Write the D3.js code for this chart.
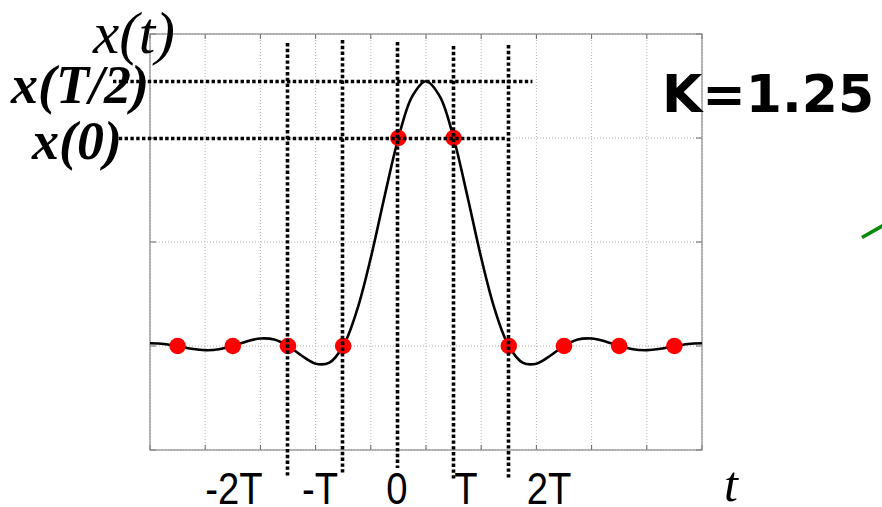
<!DOCTYPE html>
<html>
<head>
<meta charset="utf-8">
<script src="https://cdn.jsdelivr.net/npm/d3@7"></script>
<style>
  body { margin: 0; background: #fff; }
  svg { display: block; }
</style>
</head>
<body>
<div id="chart"></div>
<script>
// curve samples (t in units of T)
var curveT = [-4.5, -4.25, -4, -3.75, -3.5, -3.25, -3, -2.75, -2.5, -2.25, -2, -1.75, -1.5, -1.25, -1, -0.75, -0.5, -0.25,
  0, 0.25, 0.5, 0.75, 1, 1.25, 1.5, 1.75, 2, 2.25, 2.5, 2.75, 3, 3.25, 3.5, 3.75, 4, 4.25, 4.5, 4.75, 5, 5.25, 5.5];
var curveX = [0.013, 0.010, 0, -0.013, -0.020, -0.016, 0, 0.022, 0.036, 0.031, 0, -0.047, -0.085, -0.080, 0, 0.172, 0.424, 0.720,
  1.000, 1.200, 1.273, 1.200, 1.000, 0.720, 0.424, 0.172, 0, -0.080, -0.085, -0.047, 0, 0.031, 0.036, 0.022, 0, -0.016, -0.020, -0.013, 0, 0.010, 0.013];

// red sample points
var sampleT = [-4, -3, -2, -1, 0, 1, 2, 3, 4, 5];
var sampleX = [0, 0, 0, 0, 1, 1, 0, 0, 0, 0];

// dotted markers
var markerT = [-2, -1, 0, 1, 2];
var levelX = [1.273, 1];          // x(T/2), x(0)
var levelLabels = ["x(T/2)", "x(0)"];

// tick labels under the axis
var tickLabels = ["-2T", "-T", "0", "T", "2T"];

var W = 882, H = 507;
var svg = d3.select("#chart").append("svg")
  .attr("width", W).attr("height", H);

var x = d3.scaleLinear().domain([-4.5, 5.5]).range([150, 702]);
var y = d3.scaleLinear().domain([-0.5, 1.5]).range([450, 34]);

var gridX = d3.range(-4.5, 5.51, 1);
var gridY = d3.range(-0.5, 1.51, 0.5);

// grid
svg.append("g").selectAll("line").data(gridX).enter().append("line")
  .attr("x1", d => x(d)).attr("x2", d => x(d))
  .attr("y1", y(1.5)).attr("y2", y(-0.5))
  .attr("stroke", "#b4b4b4").attr("stroke-width", 1)
  .attr("stroke-dasharray", "1,2");
svg.append("g").selectAll("line").data(gridY).enter().append("line")
  .attr("x1", x(-4.5)).attr("x2", x(5.5))
  .attr("y1", d => y(d)).attr("y2", d => y(d))
  .attr("stroke", "#b4b4b4").attr("stroke-width", 1)
  .attr("stroke-dasharray", "1,2");

// ticks on the frame
var tk = svg.append("g").attr("stroke", "#666").attr("stroke-width", 1);
gridX.forEach(function(d) {
  tk.append("line").attr("x1", x(d)).attr("x2", x(d)).attr("y1", y(1.5)).attr("y2", y(1.5) + 5);
  tk.append("line").attr("x1", x(d)).attr("x2", x(d)).attr("y1", y(-0.5)).attr("y2", y(-0.5) - 5);
});
gridY.forEach(function(d) {
  tk.append("line").attr("x1", x(-4.5)).attr("x2", x(-4.5) + 6).attr("y1", y(d)).attr("y2", y(d));
  tk.append("line").attr("x1", x(5.5)).attr("x2", x(5.5) - 6).attr("y1", y(d)).attr("y2", y(d));
});

// frame
svg.append("rect")
  .attr("x", x(-4.5)).attr("y", y(1.5))
  .attr("width", x(5.5) - x(-4.5)).attr("height", y(-0.5) - y(1.5))
  .attr("fill", "none").attr("stroke", "#8a8a8a").attr("stroke-width", 1.2);

// the pulse
var pts = curveT.map((t, i) => [t, curveX[i]]);
svg.append("path")
  .datum(pts)
  .attr("fill", "none")
  .attr("stroke", "#000")
  .attr("stroke-width", 2.6)
  .attr("d", d3.line().x(d => x(d[0])).y(d => y(d[1])).curve(d3.curveCatmullRom.alpha(0.5)));

// samples
svg.append("g").selectAll("circle").data(sampleT).enter().append("circle")
  .attr("cx", d => x(d))
  .attr("cy", (d, i) => y(sampleX[i]))
  .attr("r", 8.3)
  .attr("fill", "#ff0000");

// dotted vertical markers
var vTop = [43, 40, 42, 46, 45];
var vBot = [477, 473, 468, 480, 478];
svg.append("g").selectAll("line").data(markerT).enter().append("line")
  .attr("x1", d => Math.round(x(d)) - 0.5).attr("x2", d => Math.round(x(d)) - 0.5)
  .attr("y1", (d, i) => vTop[i]).attr("y2", (d, i) => vBot[i])
  .attr("stroke", "#000").attr("stroke-width", 3.6)
  .attr("stroke-dasharray", "3.4,2.4");

// dotted horizontal levels
var hEnd = [2.5, 2];
svg.append("g").selectAll("line").data(levelX).enter().append("line")
  .attr("x1", 113).attr("x2", (d, i) => x(hEnd[i]) - 4)
  .attr("y1", d => Math.round(y(d)) + 0.5).attr("y2", d => Math.round(y(d)) + 0.5)
  .attr("stroke", "#000").attr("stroke-width", 3.6)
  .attr("stroke-dasharray", "3.4,2.4");

// level labels
var lvlX = [11, 32];
var lvlY = [103, 159];
svg.append("g").selectAll("text").data(levelLabels).enter().append("text")
  .attr("x", (d, i) => lvlX[i]).attr("y", (d, i) => lvlY[i])
  .attr("font-family", "Liberation Serif, Times New Roman, serif")
  .attr("font-style", "italic").attr("font-weight", "bold")
  .attr("font-size", 54)
  .text(d => d);

svg.append("text")
  .attr("x", 93).attr("y", 53)
  .attr("font-family", "Liberation Serif, Times New Roman, serif")
  .attr("font-style", "italic")
  .attr("font-size", 59)
  .text("x(t)");

svg.append("text")
  .attr("x", 724).attr("y", 501)
  .attr("font-family", "Liberation Serif, Times New Roman, serif")
  .attr("font-style", "italic")
  .attr("font-size", 50)
  .text("t");

// tick labels, slightly condensed
var labCx = [234, 320, 397, 466, 549];
svg.append("g").selectAll("text").data(tickLabels).enter().append("text")
  .attr("transform", (d, i) => "translate(" + labCx[i] + ",504) scale(0.85,1)")
  .attr("text-anchor", "middle")
  .attr("font-family", "Liberation Sans, Arial, sans-serif")
  .attr("font-size", 45)
  .text(d => d);

svg.append("text")
  .attr("x", 662).attr("y", 112)
  .attr("font-family", "DejaVu Sans, Verdana, sans-serif")
  .attr("font-weight", "bold")
  .attr("font-size", 52)
  .text("K=1.25");

// stray green stroke at the right edge
svg.append("line")
  .attr("x1", 862).attr("y1", 237.5).attr("x2", 884).attr("y2", 225)
  .attr("stroke", "#0a8a0a").attr("stroke-width", 3.5);
</script>
</body>
</html>
